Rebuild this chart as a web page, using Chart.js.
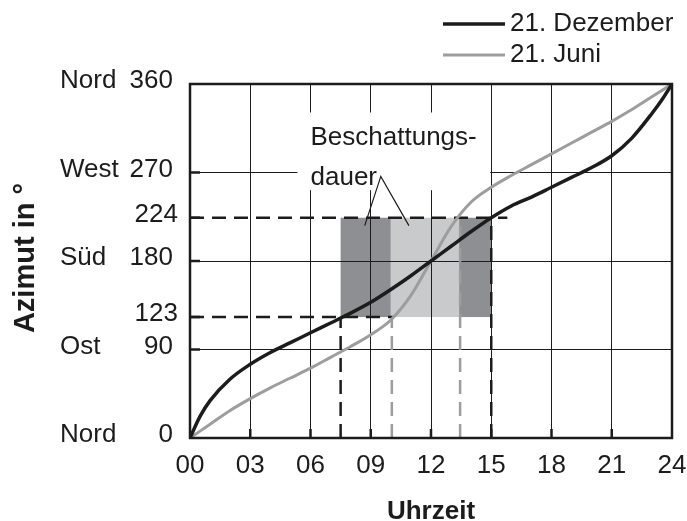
<!DOCTYPE html>
<html>
<head>
<meta charset="utf-8">
<script src="https://cdn.jsdelivr.net/npm/chart.js@4"></script>
<style>
  html, body { margin: 0; padding: 0; background: #fff; }
  #wrap { width: 687px; height: 521px; }
</style>
</head>
<body>
<div id="wrap"><canvas id="sunChart" width="687" height="521"></canvas></div>
<script>
// Sonnenazimut über die Uhrzeit
const decHours   = [0, 0.5, 1, 2, 3, 4, 5, 6, 7, 8, 9, 10, 11, 12, 13, 14, 15, 16, 17, 18, 19, 20, 21, 22, 23, 23.5, 24];
const decAzimut  = [0, 22, 38, 60, 75, 87, 97, 107, 117, 127, 138, 151, 165, 180, 195, 210, 224, 236, 245, 255, 265, 275, 287, 305, 330, 344, 360];
const juneHours  = [0, 1, 2, 3, 4, 5, 6, 7, 8, 9, 10, 11, 12, 13, 14, 15, 16, 17, 18, 19, 20, 21, 22, 23, 24];
const juneAzimut = [0, 14, 28, 40, 51, 61, 71, 82, 93, 105, 120, 145, 180, 215, 240, 255, 267, 278, 289, 300, 311, 322, 334, 347, 360];

const xTicks = [0, 3, 6, 9, 12, 15, 18, 21, 24];
const xTickLabels = ["00", "03", "06", "09", "12", "15", "18", "21", "24"];
const yTicks = [0, 90, 123, 180, 224, 270, 360];
const yGridTicks = [0, 90, 180, 270, 360];
const yNames = [["Nord", 360], ["West", 270], ["Süd", 180], ["Ost", 90], ["Nord", 0]];

// Beschattung: Fassade zwischen 123° und 224°
const shadeLow = 123;
const shadeHigh = 224;
const shadeBands = [[7.5, 10, "dark"], [10, 13.4, "light"], [13.4, 15, "dark"]];

// Hilfslinien [x1, y1, x2, y2, farbe]
const guideLines = [
  [0, 224, 15.8, 224, "black"],
  [0, 123, 10.1, 123, "black"],
  [7.5, 0, 7.5, 123, "black"],
  [10.05, 0, 10.05, 123, "gray"],
  [13.45, 0, 13.45, 224, "gray"],
  [15, 0, 15, 224, "black"]
];

const BLACK = "#1c1c1c";
const GRAY = "#9d9d9d";
const FONT = "'Liberation Sans', Arial, sans-serif";

function pts(xs, ys) {
  return xs.map(function (x, i) { return { x: x, y: ys[i] }; });
}

const datasets = [
  {
    label: "21. Dezember",
    data: pts(decHours, decAzimut),
    borderColor: BLACK,
    borderWidth: 3.5,
    pointRadius: 0,
    cubicInterpolationMode: "monotone",
    order: 0
  },
  {
    label: "21. Juni",
    data: pts(juneHours, juneAzimut),
    borderColor: GRAY,
    borderWidth: 3,
    pointRadius: 0,
    cubicInterpolationMode: "monotone",
    order: 0
  }
];

guideLines.forEach(function (g) {
  datasets.push({
    label: "guide",
    data: [{ x: g[0], y: g[1] }, { x: g[2], y: g[3] }],
    borderColor: g[4] === "black" ? BLACK : GRAY,
    borderWidth: 2.5,
    borderDash: [14, 8],
    pointRadius: 0,
    order: 1
  });
});

const decor = {
  id: "decor",
  beforeDraw(chart) {
    const ctx = chart.ctx;
    const xs = chart.scales.x, ys = chart.scales.y;
    ctx.save();
    ctx.fillStyle = "#fff";
    ctx.fillRect(0, 0, chart.width, chart.height);
    const top = ys.getPixelForValue(shadeHigh), bot = ys.getPixelForValue(shadeLow);
    shadeBands.forEach(function (b) {
      const l = xs.getPixelForValue(b[0]), r = xs.getPixelForValue(b[1]);
      ctx.fillStyle = b[2] === "dark" ? "#8e8f92" : "#c9cacc";
      ctx.fillRect(l, top, r - l, bot - top);
    });
    ctx.restore();
  },
  beforeDatasetsDraw(chart) {
    const ctx = chart.ctx;
    const xs = chart.scales.x, ys = chart.scales.y;
    ctx.save();
    // weißes Feld hinter der Beschriftung
    const bl = xs.getPixelForValue(5.35), br = xs.getPixelForValue(14.95);
    const bt = ys.getPixelForValue(331), bb = ys.getPixelForValue(252);
    ctx.fillStyle = "#fff";
    ctx.fillRect(bl, bt, br - bl, bb - bt);
    ctx.fillStyle = BLACK;
    ctx.font = "26px " + FONT;
    ctx.textAlign = "left";
    ctx.textBaseline = "alphabetic";
    const tx = xs.getPixelForValue(6);
    ctx.fillText("Beschattungs-", tx, ys.getPixelForValue(298));
    ctx.fillText("dauer", tx, ys.getPixelForValue(257));
    // Zeiger
    ctx.strokeStyle = BLACK;
    ctx.lineWidth = 1.2;
    ctx.beginPath();
    ctx.moveTo(xs.getPixelForValue(8.7), ys.getPixelForValue(216));
    ctx.lineTo(xs.getPixelForValue(9.5), ys.getPixelForValue(266));
    ctx.lineTo(xs.getPixelForValue(10.9), ys.getPixelForValue(216));
    ctx.stroke();
    ctx.restore();
  },
  afterDraw(chart) {
    const ctx = chart.ctx;
    const a = chart.chartArea;
    const xs = chart.scales.x, ys = chart.scales.y;
    ctx.save();
    // Rahmen
    ctx.strokeStyle = BLACK;
    ctx.lineWidth = 2.5;
    ctx.strokeRect(a.left, a.top, a.right - a.left, a.bottom - a.top);
    // Innenticks
    ctx.beginPath();
    xTicks.slice(1, -1).forEach(function (h) {
      const x = xs.getPixelForValue(h);
      ctx.moveTo(x, a.bottom);
      ctx.lineTo(x, a.bottom - 9);
    });
    yTicks.slice(1, -1).forEach(function (v) {
      const y = ys.getPixelForValue(v);
      ctx.moveTo(a.left, y);
      ctx.lineTo(a.left + 10, y);
    });
    ctx.stroke();

    // Achsenbeschriftung
    ctx.fillStyle = BLACK;
    ctx.font = "26px " + FONT;
    ctx.textBaseline = "middle";
    ctx.textAlign = "center";
    xTicks.forEach(function (h, i) {
      ctx.fillText(xTickLabels[i], xs.getPixelForValue(h), a.bottom + 28);
    });
    ctx.textAlign = "right";
    yTicks.forEach(function (v) {
      const off = (v === 123 || v === 224) ? 12 : 17;
      ctx.fillText(String(v), a.left - off, ys.getPixelForValue(v) - 3);
    });
    ctx.textAlign = "left";
    yNames.forEach(function (n) {
      ctx.fillText(n[0], 60, ys.getPixelForValue(n[1]) - 3);
    });

    // Titel
    ctx.font = "bold 26px " + FONT;
    ctx.textAlign = "center";
    ctx.textBaseline = "alphabetic";
    ctx.fillText("Uhrzeit", (a.left + a.right) / 2, 519);
    ctx.save();
    ctx.translate(34, 258);
    ctx.rotate(-Math.PI / 2);
    ctx.font = "bold 29px " + FONT;
    ctx.fillText("Azimut in °", 0, 0);
    ctx.restore();

    // Legende
    ctx.font = "26px " + FONT;
    ctx.textAlign = "left";
    ctx.textBaseline = "middle";
    [[datasets[0], 24], [datasets[1], 55]].forEach(function (l) {
      ctx.strokeStyle = l[0].borderColor;
      ctx.lineWidth = l[0].borderWidth;
      ctx.beginPath();
      ctx.moveTo(443, l[1]);
      ctx.lineTo(505, l[1]);
      ctx.stroke();
      ctx.fillStyle = BLACK;
      ctx.fillText(l[0].label, 510, l[1]);
    });
    ctx.restore();
  }
};

new Chart(document.getElementById("sunChart"), {
  type: "line",
  data: { datasets: datasets },
  options: {
    responsive: false,
    animation: false,
    layout: { padding: { left: 190, top: 84, right: 15, bottom: 83 } },
    plugins: { legend: { display: false }, tooltip: { enabled: false } },
    scales: {
      x: {
        type: "linear",
        min: 0,
        max: 24,
        afterBuildTicks: function (s) { s.ticks = xTicks.map(function (v) { return { value: v }; }); },
        ticks: { display: false },
        grid: { color: BLACK, lineWidth: 1, drawTicks: false },
        border: { display: false }
      },
      y: {
        type: "linear",
        min: 0,
        max: 360,
        afterBuildTicks: function (s) { s.ticks = yGridTicks.map(function (v) { return { value: v }; }); },
        ticks: { display: false },
        grid: { color: BLACK, lineWidth: 1, drawTicks: false },
        border: { display: false }
      }
    }
  },
  plugins: [decor]
});
</script>
</body>
</html>
